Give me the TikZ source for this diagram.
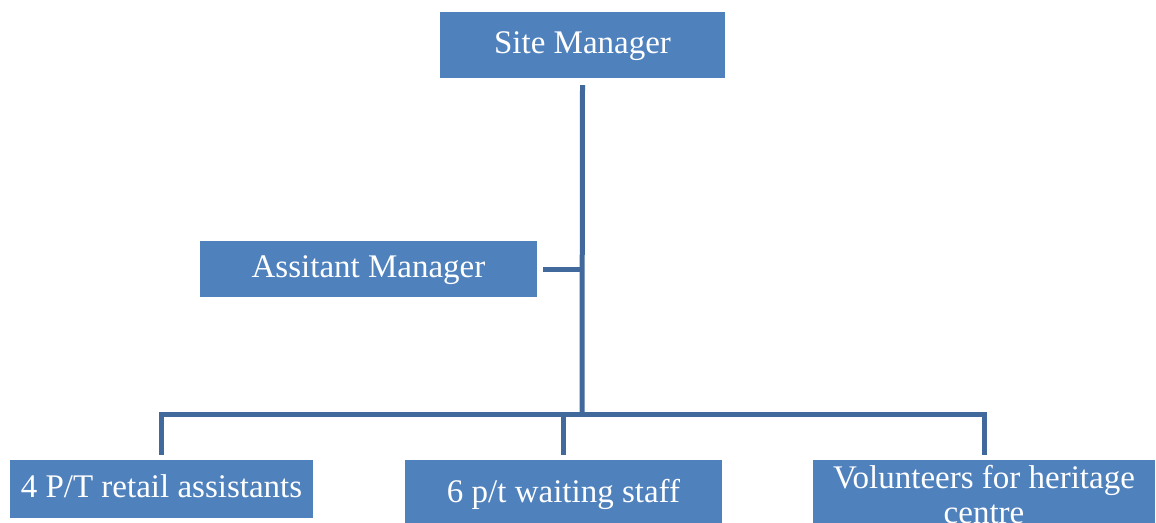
\documentclass[tikz,border=0pt]{standalone}
\usepackage{fontspec}
\setmainfont{Liberation Serif}
\usetikzlibrary{calc}
\definecolor{boxblue}{HTML}{4F81BD}
\definecolor{lineblue}{HTML}{41699B}
\tikzset{
  orgbox/.style={fill=boxblue, draw=none, inner sep=0pt, anchor=center},
  orgtext/.style={text=white, font=\fontsize{33}{35}\selectfont, inner sep=0pt},
  conn/.style={draw=lineblue, line width=5pt},
}
\begin{document}
\begin{tikzpicture}[x=1pt,y=-1pt]
\useasboundingbox (0,0) rectangle (1156,522);
\clip (0,0) rectangle (1156,522);
% boxes
\node[orgbox, orgtext, minimum width=285pt, minimum height=66pt, text height=23pt, text depth=7pt] (site) at (582.5,45) {Site Manager};
\node[orgbox, orgtext, minimum width=337pt, minimum height=56pt, text height=23pt, text depth=7pt] (asst) at (368.5,269) {Assitant Manager};
\node[orgbox, orgtext, minimum width=303pt, minimum height=58pt, text height=23pt, text depth=7pt] (b1) at (161.5,489) {4 P/T retail assistants};
\node[orgbox, orgtext, minimum width=317pt, minimum height=68pt, text height=23pt, text depth=7pt] (b2) at (563.5,494) {6 p/t waiting staff};
\node[orgbox, minimum width=342pt, minimum height=90pt] (b3) at (984,505) {};
\node[orgtext, align=center, anchor=north] (b3text) at (984,465) {Volunteers for heritage\\centre};
% connectors
\coordinate (junction) at (582,414);
\draw[conn] ($(site.south)+(0,7)$) -- (junction);
\draw[conn] ($(asst.east)+(6,0)$) -- (asst.east -| junction);
\draw[conn] ($(b1.north)+(0,-5)$) -- (b1.north |- junction) -- (b3.north |- junction) -- ($(b3.north)+(0,-5)$);
\draw[conn] (b2.north |- junction) -- ($(b2.north)+(0,-5)$);
\end{tikzpicture}
\end{document}
